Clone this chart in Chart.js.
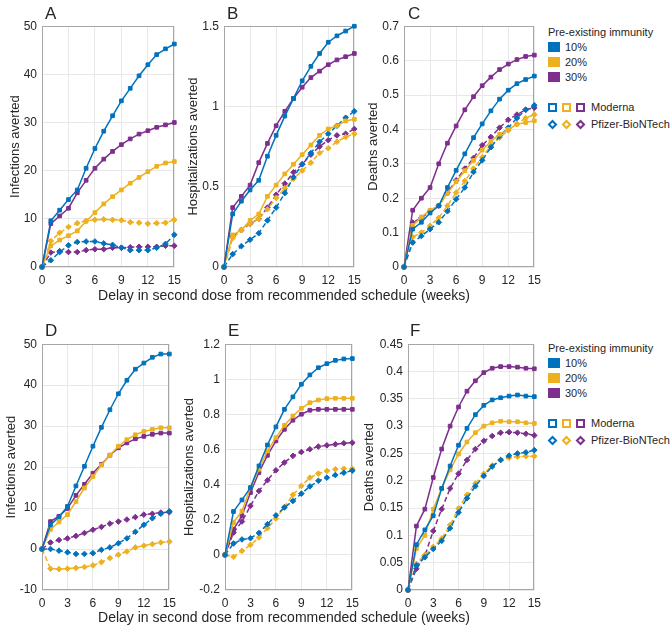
<!DOCTYPE html>
<html>
<head>
<meta charset="utf-8">
<script src="https://cdn.jsdelivr.net/npm/chart.js@4.4.0/dist/chart.umd.min.js"></script>
<style>
  body { margin: 0; background: #fff; font-family: "Liberation Sans", Arial, Helvetica, sans-serif; color: #262626; }
  #wrap { position: relative; width: 670px; height: 627px; overflow: hidden; }
  canvas { position: absolute; }
  .letter { position: absolute; font-size: 17px; line-height: 17px; }
  .xtitle { position: absolute; left: 84px; width: 400px; text-align: center; font-size: 14px; line-height: 14px; white-space: nowrap; }
  .legend { position: absolute; left: 548px; width: 122px; height: 110px; font-size: 11px; }
  .legend div { position: absolute; line-height: 12px; white-space: nowrap; }
  .sw { width: 12px; height: 10px; }
  .sq { width: 9px; height: 9px; box-sizing: border-box; border: 2px solid; background: #fff; }
  .dm { width: 7px; height: 7px; box-sizing: border-box; border: 2px solid; background: #fff; transform: rotate(45deg); }
</style>
</head>
<body>
<div id="wrap">
  <canvas id="pA"></canvas>
  <canvas id="pB"></canvas>
  <canvas id="pC"></canvas>
  <canvas id="pD"></canvas>
  <canvas id="pE"></canvas>
  <canvas id="pF"></canvas>

  <div class="letter" style="left:45px;top:5px">A</div>
  <div class="letter" style="left:227px;top:5px">B</div>
  <div class="letter" style="left:408px;top:5px">C</div>
  <div class="letter" style="left:45px;top:322px">D</div>
  <div class="letter" style="left:228px;top:322px">E</div>
  <div class="letter" style="left:410px;top:322px">F</div>

  <div class="xtitle" style="top:288px">Delay in second dose from recommended schedule (weeks)</div>
  <div class="xtitle" style="top:610px">Delay in second dose from recommended schedule (weeks)</div>

  <div class="legend" id="legTop" style="top:26px"></div>
  <div class="legend" id="legBottom" style="top:342px"></div>
</div>
<script>
// x values (weeks of delay)
const weeks = [0, 1, 2, 3, 4, 5, 6, 7, 8, 9, 10, 11, 12, 13, 14, 15];
const immunityLevels = ['10%', '20%', '30%'];
const vaccines = ['Moderna', 'Pfizer-BioNTech'];

// A - infections averted
const aMod10 = [0, 9.6, 11.8, 14.0, 16.0, 20.5, 24.6, 28.2, 31.4, 34.5, 37.1, 39.7, 42.0, 44.1, 45.3, 46.3];
const aMod20 = [0, 4.4, 5.6, 6.5, 7.5, 9.5, 11.3, 13.1, 14.6, 16.0, 17.4, 18.6, 19.8, 20.9, 21.6, 21.9];
const aMod30 = [0, 9.0, 10.6, 12.2, 15.4, 18.0, 20.5, 22.4, 24.0, 25.4, 26.6, 27.6, 28.3, 29.0, 29.5, 30.0];
const aPfz10 = [0, 1.4, 3.1, 4.5, 5.2, 5.3, 5.3, 4.9, 4.6, 4.0, 3.5, 3.5, 3.5, 4.0, 4.8, 6.7];
const aPfz20 = [0, 5.4, 7.1, 8.3, 9.1, 9.6, 9.8, 9.9, 9.8, 9.7, 9.3, 9.2, 9.0, 9.1, 9.2, 9.8];
const aPfz30 = [0, 3.0, 3.3, 3.1, 3.1, 3.5, 3.7, 3.7, 4.0, 4.0, 4.1, 4.2, 4.2, 4.2, 4.4, 4.4];

// B - hospitalizations averted
const bMod10 = [0, 0.33, 0.41, 0.48, 0.54, 0.69, 0.82, 0.94, 1.05, 1.16, 1.25, 1.33, 1.40, 1.44, 1.47, 1.50];
const bMod20 = [0, 0.20, 0.23, 0.29, 0.33, 0.44, 0.51, 0.58, 0.64, 0.70, 0.76, 0.82, 0.86, 0.88, 0.91, 0.92];
const bMod30 = [0, 0.37, 0.44, 0.51, 0.65, 0.77, 0.88, 0.97, 1.05, 1.12, 1.18, 1.22, 1.26, 1.29, 1.31, 1.33];
const bPfz10 = [0, 0.08, 0.13, 0.17, 0.21, 0.29, 0.37, 0.46, 0.56, 0.64, 0.71, 0.78, 0.83, 0.88, 0.93, 0.97];
const bPfz20 = [0, 0.18, 0.23, 0.27, 0.30, 0.36, 0.43, 0.49, 0.55, 0.60, 0.65, 0.71, 0.74, 0.78, 0.81, 0.83];
const bPfz30 = [0, 0.19, 0.23, 0.27, 0.30, 0.37, 0.45, 0.52, 0.59, 0.64, 0.70, 0.75, 0.79, 0.82, 0.83, 0.86];

// C - deaths averted
const cMod10 = [0, 0.110, 0.130, 0.157, 0.178, 0.231, 0.281, 0.329, 0.376, 0.416, 0.454, 0.488, 0.514, 0.533, 0.545, 0.555];
const cMod20 = [0, 0.121, 0.145, 0.165, 0.178, 0.214, 0.248, 0.280, 0.310, 0.340, 0.365, 0.386, 0.400, 0.415, 0.420, 0.425];
const cMod30 = [0, 0.165, 0.200, 0.231, 0.300, 0.360, 0.410, 0.457, 0.495, 0.527, 0.552, 0.574, 0.590, 0.603, 0.612, 0.616];
const cPfz10 = [0, 0.071, 0.090, 0.110, 0.130, 0.162, 0.197, 0.231, 0.276, 0.310, 0.348, 0.381, 0.405, 0.433, 0.457, 0.470];
const cPfz20 = [0, 0.087, 0.100, 0.120, 0.143, 0.178, 0.216, 0.250, 0.286, 0.319, 0.352, 0.376, 0.397, 0.416, 0.433, 0.443];
const cPfz30 = [0, 0.129, 0.143, 0.162, 0.178, 0.216, 0.252, 0.286, 0.317, 0.354, 0.378, 0.405, 0.428, 0.443, 0.457, 0.463];

// D - infections averted
const dMod10 = [0, 5.9, 7.8, 10.4, 15.4, 20.2, 25.1, 29.7, 34.0, 37.9, 41.2, 43.9, 45.4, 46.8, 47.6, 47.6];
const dMod20 = [0, 4.8, 6.6, 8.4, 11.6, 14.9, 17.7, 20.5, 22.9, 25.1, 26.7, 27.9, 28.7, 29.2, 29.6, 29.6];
const dMod30 = [0, 6.7, 8.0, 9.9, 13.1, 15.8, 18.5, 20.7, 22.9, 24.7, 25.9, 26.9, 27.5, 28.0, 28.3, 28.3];
const dPfz10 = [0, 0, -0.4, -0.8, -1.2, -1.2, -1.0, -0.2, 0.4, 1.4, 2.6, 4.2, 5.9, 7.5, 8.6, 9.2];
const dPfz20 = [0, -4.8, -4.9, -4.8, -4.6, -4.4, -4.0, -3.2, -2.2, -1.4, -0.6, 0.4, 0.8, 1.2, 1.6, 1.8];
const dPfz30 = [0, 1.6, 2.2, 2.6, 3.2, 3.9, 4.7, 5.4, 6.2, 6.7, 7.2, 7.8, 8.4, 8.6, 8.9, 9.0];

// E - hospitalizations averted
const eMod10 = [0, 0.247, 0.313, 0.383, 0.507, 0.626, 0.729, 0.829, 0.900, 0.972, 1.025, 1.066, 1.089, 1.108, 1.116, 1.118];
const eMod20 = [0, 0.184, 0.250, 0.383, 0.488, 0.592, 0.668, 0.738, 0.791, 0.835, 0.867, 0.882, 0.890, 0.892, 0.892, 0.892];
const eMod30 = [0, 0.146, 0.222, 0.355, 0.469, 0.567, 0.649, 0.715, 0.767, 0.801, 0.824, 0.829, 0.829, 0.829, 0.829, 0.829];
const ePfz10 = [0, 0.065, 0.088, 0.095, 0.125, 0.175, 0.225, 0.270, 0.307, 0.349, 0.390, 0.422, 0.440, 0.455, 0.468, 0.480];
const ePfz20 = [0, -0.011, 0.023, 0.057, 0.099, 0.152, 0.207, 0.273, 0.342, 0.393, 0.440, 0.463, 0.478, 0.488, 0.491, 0.491];
const ePfz30 = [0, 0.127, 0.190, 0.279, 0.364, 0.425, 0.482, 0.526, 0.564, 0.586, 0.602, 0.617, 0.624, 0.630, 0.636, 0.639];

// F - deaths averted
const fMod10 = [0, 0.083, 0.110, 0.136, 0.186, 0.227, 0.265, 0.296, 0.321, 0.338, 0.348, 0.352, 0.355, 0.357, 0.355, 0.354];
const fMod20 = [0, 0.076, 0.100, 0.148, 0.186, 0.220, 0.249, 0.271, 0.288, 0.300, 0.306, 0.309, 0.308, 0.308, 0.306, 0.305];
const fMod30 = [0, 0.117, 0.148, 0.206, 0.258, 0.300, 0.335, 0.364, 0.383, 0.398, 0.406, 0.409, 0.409, 0.408, 0.406, 0.405];
const fPfz10 = [0, 0.045, 0.060, 0.075, 0.090, 0.113, 0.142, 0.168, 0.190, 0.209, 0.226, 0.238, 0.246, 0.250, 0.252, 0.256];
const fPfz20 = [0, 0.048, 0.064, 0.079, 0.094, 0.119, 0.149, 0.174, 0.195, 0.213, 0.228, 0.238, 0.242, 0.244, 0.245, 0.245];
const fPfz30 = [0, 0.039, 0.063, 0.108, 0.148, 0.186, 0.213, 0.238, 0.258, 0.273, 0.282, 0.288, 0.289, 0.288, 0.286, 0.283];

const colors = ['#0072BD', '#EDB120', '#7E2F8E'];
const textColor = '#262626';
const fontFamily = '"Liberation Sans", Arial, Helvetica, sans-serif';

// axes box like matlab
const boxPlugin = {
  id: 'box',
  beforeDatasetsDraw(chart) {
    const a = chart.chartArea;
    const ctx = chart.ctx;
    ctx.save();
    ctx.strokeStyle = '#a6a6a6';
    ctx.lineWidth = 1;
    ctx.strokeRect(Math.round(a.left) + 0.5, Math.round(a.top) + 0.5, Math.round(a.width) - 1, Math.round(a.height) - 1);
    ctx.restore();
  }
};

function line(values, color, pfizer) {
  return {
    data: values.map((v, i) => ({ x: weeks[i], y: v })),
    borderColor: color,
    backgroundColor: color,
    borderWidth: 1.5,
    borderDash: pfizer ? [5, 3] : [],
    pointStyle: pfizer ? 'rectRot' : 'rect',
    pointRadius: pfizer ? 2.8 : 2.6,
    pointBorderWidth: 1,
    pointBorderColor: color,
    pointBackgroundColor: color,
    clip: false,
    tension: 0
  };
}

function makePanel(id, left, top, w, h, yW, yTitle, yMin, yMax, yStep, moderna, pfizer) {
  const cv = document.getElementById(id);
  cv.width = w; cv.height = h;
  cv.style.left = left + 'px';
  cv.style.top = top + 'px';
  const sets = [];
  moderna.forEach((s, i) => sets.push(line(s, colors[i], false)));
  pfizer.forEach((s, i) => sets.push(line(s, colors[i], true)));
  new Chart(cv.getContext('2d'), {
    type: 'line',
    data: { datasets: sets },
    options: {
      responsive: false,
      animation: false,
      layout: { padding: { top: 10, right: 10, left: 0, bottom: 0 } },
      plugins: { legend: { display: false }, tooltip: { enabled: false } },
      scales: {
        x: {
          type: 'linear', min: 0, max: 15,
          ticks: { stepSize: 3, color: textColor, padding: 6, maxRotation: 0, font: { size: 12, family: fontFamily } },
          grid: { color: '#e8e8e8', drawTicks: false },
          border: { display: false },
          afterFit: s => { s.height = 22; }
        },
        y: {
          type: 'linear', min: yMin, max: yMax,
          ticks: {
            stepSize: yStep, color: textColor, padding: 5, font: { size: 12, family: fontFamily },
            callback: v => String(parseFloat(Number(v).toFixed(3)))
          },
          grid: { color: '#e8e8e8', drawTicks: false },
          border: { display: false },
          title: { display: true, text: yTitle, color: textColor, padding: 0, font: { size: 13, family: fontFamily } },
          afterFit: s => { s.width = yW; }
        }
      }
    },
    plugins: [boxPlugin]
  });
}

makePanel('pA', 8, 14, 179, 275, 34, 'Infections averted', 0, 50, 10, [aMod10, aMod20, aMod30], [aPfz10, aPfz20, aPfz30]);
makePanel('pB', 186, 14, 181, 275, 38, 'Hospitalizations averted', 0, 1.5, 0.5, [bMod10, bMod20, bMod30], [bPfz10, bPfz20, bPfz30]);
makePanel('pC', 366, 14, 181, 275, 38, 'Deaths averted', 0, 0.7, 0.1, [cMod10, cMod20, cMod30], [cPfz10, cPfz20, cPfz30]);
makePanel('pD', 4, 332, 178, 280, 38, 'Infections averted', -10, 50, 10, [dMod10, dMod20, dMod30], [dPfz10, dPfz20, dPfz30]);
makePanel('pE', 182, 332, 183, 280, 43, 'Hospitalizations averted', -0.2, 1.2, 0.2, [eMod10, eMod20, eMod30], [ePfz10, ePfz20, ePfz30]);
makePanel('pF', 362, 332, 185, 280, 46, 'Deaths averted', 0, 0.45, 0.05, [fMod10, fMod20, fMod30], [fPfz10, fPfz20, fPfz30]);

// legends (same for both rows)
function buildLegend(el) {
  let html = '<div style="left:0;top:0">Pre-existing immunity</div>';
  immunityLevels.forEach((lvl, i) => {
    html += '<div class="sw" style="left:0;top:' + (16 + i * 15) + 'px;background:' + colors[i] + '"></div>';
    html += '<div style="left:17px;top:' + (15 + i * 15) + 'px">' + lvl + '</div>';
  });
  colors.forEach((c, i) => {
    html += '<div class="sq" style="left:' + (i * 14) + 'px;top:77px;border-color:' + c + '"></div>';
    html += '<div class="dm" style="left:' + (1 + i * 14) + 'px;top:95px;border-color:' + c + '"></div>';
  });
  html += '<div style="left:43px;top:75px">' + vaccines[0] + '</div>';
  html += '<div style="left:43px;top:92px">' + vaccines[1] + '</div>';
  el.innerHTML = html;
}
buildLegend(document.getElementById('legTop'));
buildLegend(document.getElementById('legBottom'));
</script>
</body>
</html>
